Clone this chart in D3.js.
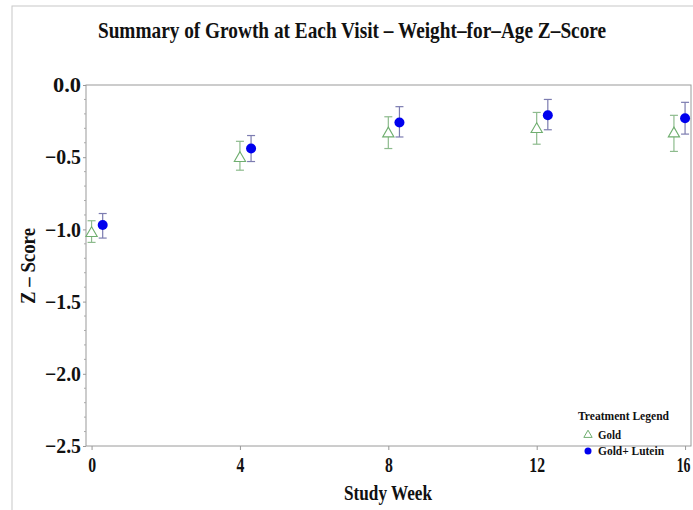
<!DOCTYPE html>
<html lang="en">
<head>
<meta charset="UTF-8">
<title>Weight-for-Age Z-Score</title>
<script src="https://d3js.org/d3.v7.min.js"></script>
<style>
  body { margin: 0; background: #fff; }
  svg { display: block; }
  text { font-family: "Liberation Serif", "DejaVu Serif", serif; font-weight: bold; fill: #111; }
</style>
</head>
<body>
<svg width="693" height="510"></svg>
<script>
// study weeks (x positions are offset a bit per group in the original)
const goldWeek = [0, 4, 8, 12, 15.7];
const goldMean = [-1.02, -0.50, -0.33, -0.30, -0.33];
const goldLow  = [-1.09, -0.59, -0.44, -0.41, -0.46];
const goldHigh = [-0.94, -0.39, -0.22, -0.19, -0.21];

const luteinWeek = [0.3, 4.3, 8.3, 12.3, 16];
const luteinMean = [-0.97, -0.44, -0.26, -0.21, -0.23];
const luteinLow  = [-1.06, -0.53, -0.36, -0.31, -0.34];
const luteinHigh = [-0.89, -0.35, -0.15, -0.10, -0.12];

const xTicks = [0, 4, 8, 12, 16];
const yTicks = [0, -0.5, -1, -1.5, -2, -2.5];

const svg = d3.select("svg");
const plot = { left: 86, right: 691, top: 85, bottom: 446 };

// outer frame
svg.append("rect")
    .attr("x", 12).attr("y", 6)
    .attr("width", 700).attr("height", 520)
    .attr("fill", "none")
    .attr("stroke", "#c8c8c8");

const x = d3.scaleLinear().domain([-0.15, 16.16]).range([plot.left, plot.right]);
const y = d3.scaleLinear().domain([-2.5, 0]).range([plot.bottom, plot.top]);

// plot box
svg.append("rect")
    .attr("x", plot.left).attr("y", plot.top)
    .attr("width", plot.right - plot.left).attr("height", plot.bottom - plot.top)
    .attr("fill", "none")
    .attr("stroke", "#9a9a9a");

// title (condensed with a horizontal scale, like the SAS font)
svg.append("text")
    .attr("transform", "translate(352,38) scale(0.84,1)")
    .attr("text-anchor", "middle")
    .attr("font-size", 23)
    .text("Summary of Growth at Each Visit \u2013 Weight\u2013for\u2013Age Z\u2013Score");

// y axis
const yAxis = d3.axisLeft(y).tickValues(yTicks).tickSize(3).tickPadding(2)
    .tickFormat(d => d === 0 ? "0.0" : d3.format(".1f")(d).replace("-", "\u2013"));
const gy = svg.append("g").attr("transform", `translate(${plot.left},0)`).call(yAxis);
gy.select(".domain").remove();
gy.selectAll("line").attr("stroke", "#999");
gy.selectAll("text")
    .attr("font-size", 21)
    .attr("font-family", "\"Liberation Serif\", serif")
    .attr("font-weight", "bold")
    .attr("fill", "#111")
    .attr("textLength", 28)
    .attr("lengthAdjust", "spacingAndGlyphs")
    .each(function (d) { if (d !== 0) d3.select(this).attr("textLength", 36); });

// minor y ticks
const minor = d3.range(0, 26).map(i => -i / 10).filter(v => Math.abs(v * 2 - Math.round(v * 2)) > 1e-6);
svg.append("g").selectAll("line")
    .data(minor)
    .join("line")
    .attr("x1", plot.left - 2).attr("x2", plot.left)
    .attr("y1", d => y(d)).attr("y2", d => y(d))
    .attr("stroke", "#aaa");

// x axis
const xAxis = d3.axisBottom(x).tickValues(xTicks).tickSize(4).tickPadding(4);
const gx = svg.append("g").attr("transform", `translate(0,${plot.bottom})`).call(xAxis);
gx.select(".domain").remove();
gx.selectAll("line").attr("stroke", "#999");
gx.selectAll("text")
    .attr("font-size", 21)
    .attr("font-family", "\"Liberation Serif\", serif")
    .attr("font-weight", "bold")
    .attr("fill", "#111")
    .attr("dy", "0.85em")
    .attr("transform", d => d === 16 ? "translate(-2,0) scale(0.66,1)" : "scale(0.75,1)");

// axis titles
svg.append("text")
    .attr("x", 388).attr("y", 500)
    .attr("text-anchor", "middle")
    .attr("font-size", 21)
    .attr("textLength", 88)
    .attr("lengthAdjust", "spacingAndGlyphs")
    .text("Study Week");

svg.append("text")
    .attr("transform", "translate(35,266) rotate(-90)")
    .attr("text-anchor", "middle")
    .attr("font-size", 21)
    .attr("textLength", 76)
    .attr("lengthAdjust", "spacingAndGlyphs")
    .text("Z \u2013 Score");

// error bars
function errorBars(weeks, lo, hi, color) {
    const g = svg.append("g").attr("stroke", color).attr("stroke-width", 1.2);
    const idx = d3.range(weeks.length);
    g.selectAll(".v").data(idx).join("line")
        .attr("x1", i => x(weeks[i])).attr("x2", i => x(weeks[i]))
        .attr("y1", i => y(lo[i])).attr("y2", i => y(hi[i]));
    g.selectAll(".lo").data(idx).join("line")
        .attr("x1", i => x(weeks[i]) - 4).attr("x2", i => x(weeks[i]) + 4)
        .attr("y1", i => y(lo[i])).attr("y2", i => y(lo[i]));
    g.selectAll(".hi").data(idx).join("line")
        .attr("x1", i => x(weeks[i]) - 4).attr("x2", i => x(weeks[i]) + 4)
        .attr("y1", i => y(hi[i])).attr("y2", i => y(hi[i]));
}
errorBars(goldWeek, goldLow, goldHigh, "#8dbb8d");
errorBars(luteinWeek, luteinLow, luteinHigh, "#7c7cb0");

const tri = d3.symbol().type(d3.symbolTriangle).size(55);
svg.append("g").selectAll("path")
    .data(d3.range(goldWeek.length))
    .join("path")
    .attr("d", tri)
    .attr("transform", i => `translate(${x(goldWeek[i])},${y(goldMean[i]) + 1})`)
    .attr("fill", "#fff")
    .attr("stroke", "#6fae6f")
    .attr("stroke-width", 1.1);

svg.append("g").selectAll("circle")
    .data(d3.range(luteinWeek.length))
    .join("circle")
    .attr("cx", i => x(luteinWeek[i]))
    .attr("cy", i => y(luteinMean[i]))
    .attr("r", 5)
    .attr("fill", "#0000ee");

// legend
const lg = svg.append("g").attr("transform", "translate(578,0)");
lg.append("text").attr("x", 0).attr("y", 420)
    .attr("font-size", 13).attr("textLength", 91).attr("lengthAdjust", "spacingAndGlyphs")
    .text("Treatment Legend");
lg.append("path").attr("d", d3.symbol().type(d3.symbolTriangle).size(30))
    .attr("transform", "translate(10,435)")
    .attr("fill", "#fff").attr("stroke", "#6fae6f");
lg.append("text").attr("x", 20).attr("y", 439)
    .attr("font-size", 13).attr("textLength", 23).attr("lengthAdjust", "spacingAndGlyphs")
    .text("Gold");
lg.append("circle").attr("cx", 10).attr("cy", 451).attr("r", 3.5).attr("fill", "#0000ee");
lg.append("text").attr("x", 20).attr("y", 455)
    .attr("font-size", 13).attr("textLength", 66).attr("lengthAdjust", "spacingAndGlyphs")
    .text("Gold+ Lutein");
</script>
</body>
</html>
